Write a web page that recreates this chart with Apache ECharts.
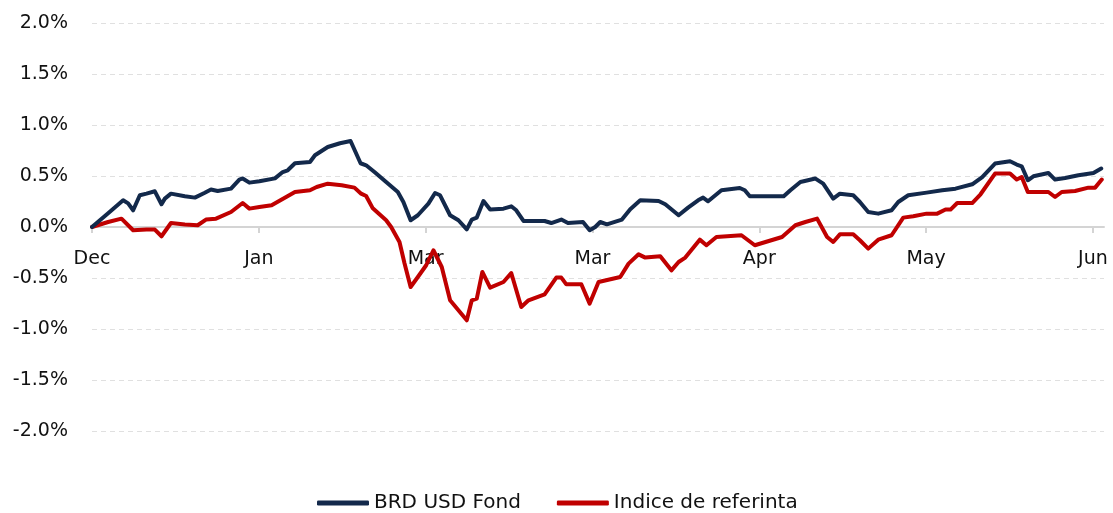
<!DOCTYPE html>
<html>
<head>
<meta charset="utf-8">
<script src="https://cdn.jsdelivr.net/npm/echarts@6/dist/echarts.min.js"></script>
<style>
html,body{margin:0;padding:0;background:#fff;}
#chart{width:1113px;height:513px;}
</style>
</head>
<body>
<div id="chart"></div>
<script>
// Day offsets from the first observation (value axis), values in %
const seriesNames = ['BRD USD Fond', 'Indice de referinta'];
const monthLabels = ['Dec', 'Jan', 'Mar', 'Mar', 'Apr', 'May', 'Jun'];
const monthTickDays = [0, 30, 60, 90, 120, 150, 180];

const brdDays = [0, 2.9, 5.6, 6.5, 7.4, 8.6, 9.8, 11.3, 12.5, 13.1, 14.2, 16.7, 18.5, 20.2, 21.4, 22.6, 25.0, 26.5, 27.1, 28.3, 30.1, 32.9, 34.3, 35.2, 36.5, 39.2, 40.1, 42.4, 44.6, 46.5, 48.3, 49.3, 50.8, 52.9, 55.0, 56.0, 57.3, 58.6, 60.5, 61.7, 62.6, 64.4, 65.9, 67.4, 68.3, 69.2, 70.4, 71.6, 74.0, 75.4, 76.3, 77.6, 79.6, 81.4, 82.6, 84.4, 85.6, 88.3, 89.5, 90.5, 91.4, 92.6, 95.3, 96.8, 98.6, 101.9, 103.1, 105.5, 107.2, 109.0, 109.9, 110.8, 113.2, 116.5, 117.4, 118.3, 124.4, 125.6, 127.4, 130.1, 131.5, 133.3, 134.5, 136.9, 138.1, 139.6, 141.4, 143.8, 145.0, 146.8, 150.1, 152.9, 155.3, 158.3, 160.1, 162.4, 165.1, 166.3, 167.2, 168.3, 169.3, 172.0, 173.2, 175.0, 177.4, 180.1, 181.5];
const brdValues = [0, 0.134, 0.262, 0.232, 0.164, 0.311, 0.327, 0.350, 0.223, 0.278, 0.327, 0.301, 0.288, 0.333, 0.367, 0.353, 0.376, 0.465, 0.476, 0.435, 0.448, 0.477, 0.539, 0.556, 0.625, 0.637, 0.703, 0.784, 0.821, 0.843, 0.625, 0.605, 0.539, 0.441, 0.343, 0.245, 0.066, 0.115, 0.229, 0.333, 0.311, 0.115, 0.066, -0.023, 0.073, 0.092, 0.255, 0.171, 0.180, 0.203, 0.164, 0.059, 0.059, 0.059, 0.039, 0.073, 0.039, 0.049, -0.032, 0.000, 0.049, 0.026, 0.073, 0.174, 0.262, 0.255, 0.223, 0.115, 0.190, 0.262, 0.288, 0.252, 0.360, 0.382, 0.360, 0.301, 0.301, 0.360, 0.441, 0.475, 0.425, 0.278, 0.327, 0.311, 0.245, 0.147, 0.131, 0.164, 0.245, 0.311, 0.337, 0.360, 0.376, 0.419, 0.490, 0.622, 0.644, 0.612, 0.595, 0.458, 0.497, 0.529, 0.465, 0.480, 0.507, 0.529, 0.573];

const refDays = [0, 2.9, 5.3, 7.4, 9.8, 11.3, 12.5, 14.2, 16.7, 19.0, 20.5, 22.3, 25.0, 27.1, 28.3, 30.1, 32.3, 36.5, 39.2, 40.4, 42.4, 44.9, 47.2, 48.4, 49.3, 50.5, 52.9, 53.8, 55.3, 56.2, 57.3, 58.6, 60.1, 61.4, 62.9, 64.4, 67.4, 68.3, 69.2, 70.2, 71.6, 74.0, 75.4, 77.2, 78.5, 81.4, 83.5, 84.4, 85.3, 88.0, 89.5, 91.1, 95.0, 96.5, 98.3, 99.5, 102.2, 104.2, 105.5, 106.7, 109.3, 110.5, 112.3, 116.8, 118.0, 119.2, 124.1, 126.5, 128.3, 130.4, 132.2, 133.3, 134.5, 136.9, 138.1, 139.6, 141.4, 143.8, 145.9, 147.7, 150.1, 152.0, 153.5, 154.4, 155.6, 158.3, 159.8, 162.4, 165.1, 166.3, 167.2, 168.3, 172.0, 173.2, 174.4, 176.8, 179.2, 180.4, 181.6];
const refValues = [0, 0.049, 0.082, -0.032, -0.025, -0.025, -0.091, 0.039, 0.024, 0.017, 0.073, 0.082, 0.147, 0.235, 0.180, 0.196, 0.213, 0.343, 0.360, 0.392, 0.425, 0.409, 0.386, 0.327, 0.304, 0.183, 0.066, 0.000, -0.147, -0.356, -0.588, -0.490, -0.375, -0.228, -0.392, -0.719, -0.915, -0.719, -0.702, -0.441, -0.594, -0.539, -0.451, -0.784, -0.719, -0.660, -0.496, -0.496, -0.562, -0.562, -0.751, -0.539, -0.490, -0.359, -0.268, -0.300, -0.287, -0.425, -0.343, -0.300, -0.124, -0.179, -0.098, -0.081, -0.130, -0.179, -0.098, 0.017, 0.049, 0.082, -0.098, -0.147, -0.072, -0.072, -0.130, -0.212, -0.124, -0.081, 0.092, 0.105, 0.131, 0.131, 0.171, 0.171, 0.235, 0.235, 0.321, 0.524, 0.524, 0.465, 0.490, 0.343, 0.343, 0.294, 0.343, 0.353, 0.386, 0.386, 0.465];

const yMin = -2, yMax = 2, yStep = 0.5;
const xMin = 0, xMax = 182;

const zip = (xs, ys) => xs.map((x, i) => [x, ys[i]]);
const font = 'DejaVu Sans';

const gridTop = 23, gridBottom = 82, chartH = 513;
const plotH = chartH - gridTop - gridBottom;
// distance (px) from the plot's bottom edge up to the zero line, derived from the axis range
const zeroOffset = plotH * (0 - yMin) / (yMax - yMin);

const chart = echarts.init(document.getElementById('chart'), null, {renderer: 'canvas'});
chart.setOption({
  animation: false,
  backgroundColor: '#ffffff',
  grid: {left: 92, right: 9, top: gridTop, bottom: gridBottom},
  legend: {
    data: seriesNames,
    left: 312,
    top: 488,
    icon: 'roundRect',
    itemWidth: 52,
    itemHeight: 5,
    itemGap: 36,
    textStyle: {fontFamily: font, fontSize: 20, color: '#111'}
  },
  xAxis: [
    {
      type: 'value',
      min: xMin,
      max: xMax,
      axisLine: {onZero: true, lineStyle: {color: '#d4d4d4', width: 2}},
      axisTick: {show: true, length: 6, customValues: monthTickDays, lineStyle: {color: '#d4d4d4', width: 2}},
      axisLabel: {show: false},
      splitLine: {show: false}
    },
    {
      type: 'value',
      min: xMin,
      max: xMax,
      position: 'bottom',
      offset: -zeroOffset,
      axisLine: {show: false, onZero: false},
      axisTick: {show: false},
      axisLabel: {
        customValues: monthTickDays,
        margin: 23,
        fontFamily: font, fontSize: 19, color: '#111',
        formatter: v => { const i = monthTickDays.indexOf(Math.round(v)); return i >= 0 ? monthLabels[i] : ''; }
      },
      splitLine: {show: false}
    }
  ],
  yAxis: {
    type: 'value',
    min: yMin,
    max: yMax,
    interval: yStep,
    axisLine: {show: false},
    axisTick: {show: false},
    axisLabel: {
      margin: 24,
      fontFamily: font, fontSize: 19, color: '#111',
      formatter: v => v.toFixed(1) + '%'
    },
    splitLine: {show: true, lineStyle: {color: '#e0e0e0', type: [5, 4], width: 1}}
  },
  series: [
    {
      name: seriesNames[0],
      type: 'line',
      xAxisIndex: 0,
      data: zip(brdDays, brdValues),
      symbol: 'none',
      z: 3,
      lineStyle: {color: '#13294b', width: 4, join: 'round', cap: 'round'},
      itemStyle: {color: '#13294b'}
    },
    {
      name: seriesNames[1],
      type: 'line',
      xAxisIndex: 0,
      data: zip(refDays, refValues),
      symbol: 'none',
      z: 2,
      lineStyle: {color: '#c00000', width: 4, join: 'round', cap: 'round'},
      itemStyle: {color: '#c00000'}
    }
  ]
});
</script>
</body>
</html>
